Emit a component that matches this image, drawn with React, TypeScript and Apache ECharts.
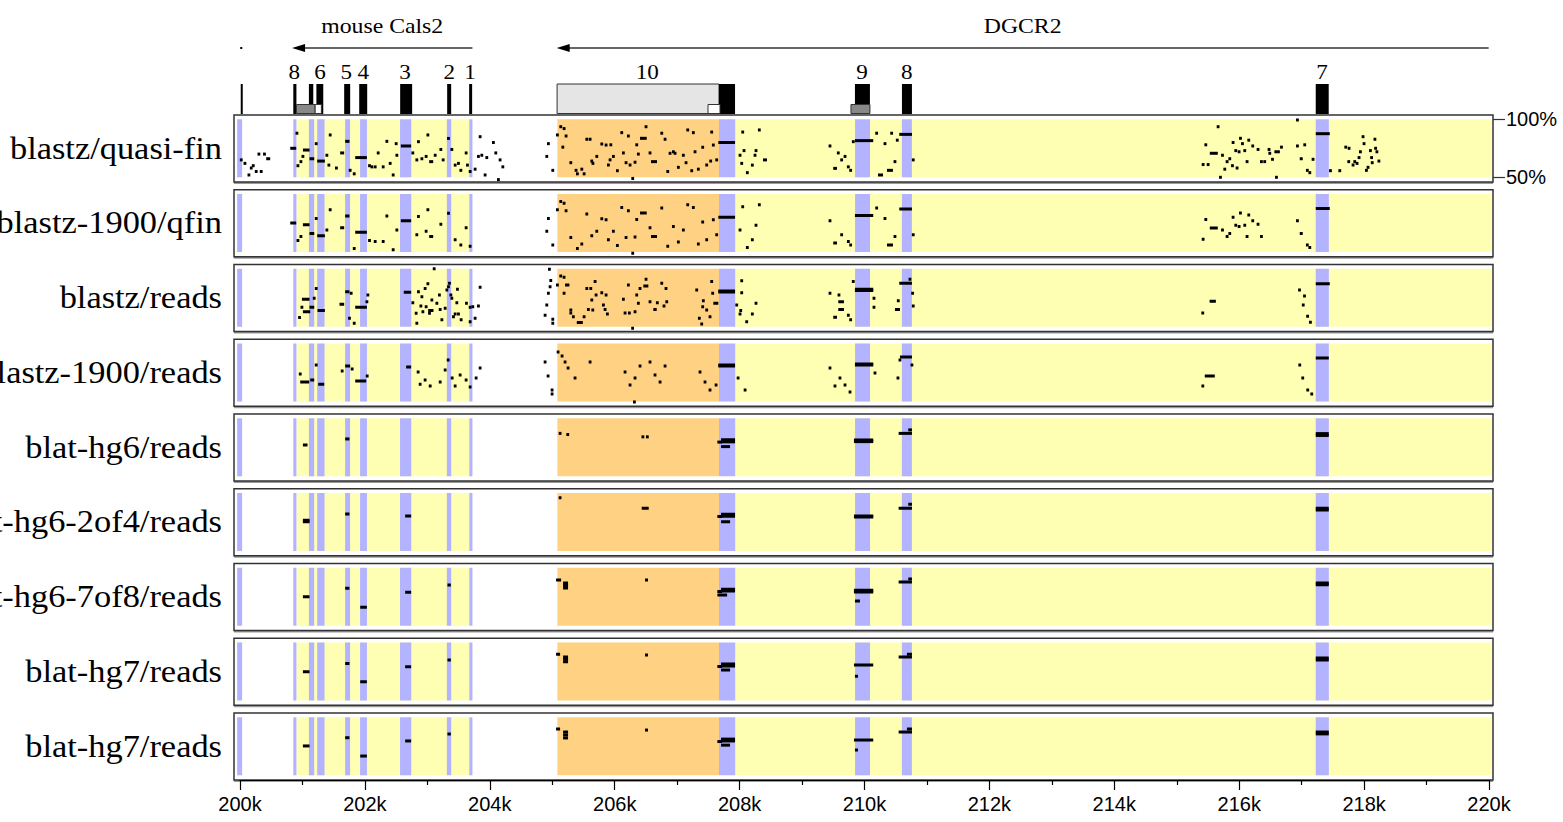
import React, { useEffect, useRef } from "react";
import * as echarts from "echarts";

// ---------- labels ----------
const rowLabels = [
  "blastz/quasi-fin",
  "blastz-1900/qfin",
  "blastz/reads",
  "blastz-1900/reads",
  "blat-hg6/reads",
  "blat-hg6-2of4/reads",
  "blat-hg6-7of8/reads",
  "blat-hg7/reads",
  "blat-hg7/reads",
];
const pctTicks = [50, 100];
const X_MIN = 199.9;
const X_MAX = 220.07;

// ---------- background bands (kb) ----------
const intronBands = [
  [200.9, 203.67],
  [207.93, 220.05],
];
const utrBands = [[205.08, 207.67]];
const exonBands = [
  [199.95, 200.03],
  [200.85, 200.9],
  [201.1, 201.185],
  [201.233, 201.35],
  [201.68, 201.76],
  [201.92, 202.03],
  [202.56, 202.74],
  [203.31, 203.38],
  [203.67, 203.72],
  [207.67, 207.93],
  [209.85, 210.09],
  [210.6, 210.76],
  [217.23, 217.44],
];

// ---------- gene annotation (kb) ----------
const geneSpans = [
  [200.0, 200.03],
  [200.83, 203.72],
  [205.07, 220.0],
];
const geneNames = ["", "mouse Cals2", "DGCR2"];
const codingExons = [
  [200.008, 200.035],
  [200.85, 200.9],
  [201.1, 201.17],
  [201.22, 201.33],
  [201.665, 201.761],
  [201.906, 202.034],
  [202.562, 202.754],
  [203.315, 203.379],
  [203.667, 203.715],
  [207.67, 207.927],
  [209.848, 210.088],
  [210.601, 210.761],
  [217.23, 217.438],
];
const utrBoxes = [[205.076, 207.67]];
const greyBoxes = [
  [200.9, 201.2],
  [209.784, 210.088],
];
const whiteBoxes = [
  [201.2, 201.3],
  [207.494, 207.686],
];
const exonNumberPos = [200.865, 201.28, 201.7, 201.97, 202.64, 203.35, 203.68, 206.52, 209.96, 210.68, 217.33];
const exonNumbers = ["8", "6", "5", "4", "3", "2", "1", "10", "9", "8", "7"];

// ---------- aligned segments: [start kb, end kb, % identity] ----------
const quasiFin = [
  [200.016, 200.016, 65], [200.075, 200.075, 62], [200.139, 200.139, 52], [200.176, 200.176, 58], [200.208, 200.208, 60],
  [200.256, 200.256, 55], [200.299, 200.299, 70], [200.336, 200.336, 55], [200.376, 200.4, 70], [200.416, 200.48, 66],
  [200.801, 200.897, 75], [200.908, 200.908, 88], [200.924, 200.924, 60], [200.972, 200.972, 63.5], [201.004, 201.004, 68],
  [201.004, 201.11, 73.5], [201.11, 201.185, 66], [201.217, 201.217, 79], [201.233, 201.356, 64], [201.388, 201.388, 69],
  [201.441, 201.441, 86.5], [201.42, 201.42, 60.5], [201.521, 201.56, 58], [201.601, 201.665, 71], [201.681, 201.75, 81],
  [201.761, 201.761, 56], [201.826, 201.826, 53], [201.842, 202.029, 67], [202.071, 202.071, 60], [202.109, 202.109, 59],
  [202.162, 202.162, 59], [202.21, 202.21, 71], [202.29, 202.29, 59], [202.349, 202.349, 81], [202.402, 202.402, 62],
  [202.45, 202.45, 52], [202.498, 202.498, 79], [202.509, 202.509, 69], [202.573, 202.738, 77], [202.765, 202.765, 71],
  [202.829, 202.829, 65], [202.855, 202.855, 80.7], [202.91, 202.91, 66], [202.978, 202.978, 68], [203.006, 203.006, 86.5],
  [203.027, 203.091, 63.5], [203.123, 203.123, 69], [203.214, 203.214, 74], [203.251, 203.251, 65], [203.336, 203.336, 83.5],
  [203.39, 203.39, 74], [203.443, 203.443, 60.5], [203.496, 203.496, 62], [203.534, 203.534, 56], [203.619, 203.619, 71],
  [203.64, 203.64, 60.5], [203.683, 203.683, 55], [203.763, 203.763, 57], [203.816, 203.816, 68], [203.843, 203.843, 85],
  [203.87, 203.87, 69], [203.923, 203.923, 52], [203.95, 203.95, 67], [204.056, 204.056, 80], [204.094, 204.094, 71],
  [204.136, 204.136, 48], [204.163, 204.163, 65], [204.207, 204.207, 59],
  [204.911, 204.911, 68], [204.937, 204.937, 79], [205.007, 205.007, 56],
  [205.081, 205.081, 86.5], [205.135, 205.135, 93.6], [205.188, 205.188, 92], [205.2, 205.24, 85.6], [205.168, 205.168, 76],
  [205.296, 205.296, 62.6], [205.401, 205.401, 53], [205.38, 205.38, 56], [205.472, 205.472, 57], [205.509, 205.509, 53],
  [205.552, 205.552, 82.8], [205.605, 205.605, 82.8], [205.632, 205.632, 64], [205.65, 205.65, 62], [205.712, 205.712, 68],
  [205.792, 205.792, 78.7], [205.861, 205.861, 77.8], [205.898, 205.898, 60.6], [205.925, 205.925, 65], [205.937, 205.937, 78],
  [205.978, 205.978, 68], [206.042, 206.042, 55.7], [206.112, 206.112, 88.5], [206.138, 206.138, 71], [206.181, 206.181, 62.6],
  [206.218, 206.218, 85.6], [206.245, 206.245, 60.6], [206.288, 206.288, 49], [206.325, 206.325, 63], [206.352, 206.352, 78],
  [206.378, 206.378, 70], [206.405, 206.512, 83.6], [206.501, 206.501, 93.6], [206.565, 206.565, 71], [206.581, 206.677, 63.5],
  [206.753, 206.753, 88], [206.806, 206.806, 82.8], [206.849, 206.849, 55], [206.886, 206.886, 70.7], [206.939, 206.939, 72],
  [206.966, 206.966, 70.7], [207.019, 207.019, 58.6], [207.099, 207.099, 69], [207.142, 207.142, 62.6], [207.169, 207.169, 90.8],
  [207.233, 207.233, 55.7], [207.259, 207.259, 88.5], [207.286, 207.286, 72], [207.339, 207.339, 57], [207.409, 207.409, 75.9],
  [207.473, 207.473, 60.6], [207.537, 207.537, 64], [207.579, 207.579, 77.8], [207.633, 207.633, 65], [207.553, 207.553, 89],
  [207.659, 207.927, 80],
  [208.007, 208.007, 69], [208.05, 208.05, 89], [208.071, 208.071, 73], [208.034, 208.034, 62], [208.124, 208.124, 54],
  [208.204, 208.204, 60.5], [208.247, 208.247, 69], [208.263, 208.263, 73], [208.316, 208.316, 90.8], [208.375, 208.439, 65],
  [209.448, 209.448, 77], [209.5, 209.56, 57.7], [209.581, 209.581, 71], [209.635, 209.635, 65], [209.689, 209.689, 68],
  [209.742, 209.742, 59], [209.779, 209.779, 56], [209.821, 209.821, 80.7], [209.848, 210.141, 81.6], [210.196, 210.196, 88],
  [210.329, 210.329, 79], [210.217, 210.297, 52], [210.361, 210.457, 56], [210.436, 210.436, 88], [210.489, 210.489, 63.5],
  [210.526, 210.526, 82], [210.558, 210.761, 87], [210.782, 210.782, 65],
  [215.469, 215.469, 78], [215.666, 215.666, 93.6], [215.533, 215.661, 70.7], [215.426, 215.426, 61], [215.506, 215.506, 61],
  [215.736, 215.736, 69], [215.773, 215.773, 57], [215.81, 215.81, 63.5], [215.853, 215.853, 66], [215.896, 215.896, 60],
  [215.906, 215.906, 80], [215.97, 215.97, 58], [215.949, 215.949, 73], [216.002, 216.002, 72], [216.024, 216.024, 83.6],
  [216.056, 216.056, 79], [216.093, 216.093, 73], [216.13, 216.13, 63.5], [216.157, 216.157, 82], [216.205, 216.237, 77],
  [216.306, 216.306, 74], [216.36, 216.36, 63.5], [216.413, 216.413, 63.5], [216.482, 216.482, 74], [216.494, 216.494, 70.7],
  [216.537, 216.537, 65.5], [216.59, 216.59, 72], [216.633, 216.633, 72], [216.681, 216.681, 76], [216.601, 216.601, 50],
  [215.704, 215.704, 50], [216.937, 216.937, 77], [216.937, 216.937, 99.4], [216.974, 217.022, 66], [217.054, 217.054, 78],
  [217.187, 217.187, 65.5], [217.081, 217.11, 56], [217.12, 217.15, 54],
  [217.231, 217.455, 87.6], [217.466, 217.466, 55.7], [217.615, 217.615, 55.7], [217.711, 217.711, 76], [217.764, 217.764, 75],
  [217.759, 217.759, 63.5], [217.828, 217.828, 60.6], [217.855, 217.855, 63.5], [217.892, 217.892, 62], [217.924, 217.924, 67],
  [217.946, 217.946, 72], [217.988, 217.988, 85], [218.004, 218.004, 79], [218.042, 218.042, 56], [218.068, 218.068, 58.6],
  [218.106, 218.106, 73], [218.125, 218.125, 67], [218.135, 218.135, 62.6], [218.178, 218.178, 82.8], [218.189, 218.189, 75],
  [218.21, 218.21, 72], [218.242, 218.242, 64],
];

const qfin1900 = [
  [200.801, 200.897, 75], [200.924, 200.924, 60], [200.972, 200.972, 63.5], [201.004, 201.11, 73.5], [201.11, 201.185, 66],
  [201.217, 201.217, 79], [201.233, 201.356, 64], [201.388, 201.388, 69], [201.441, 201.441, 86.5], [201.601, 201.665, 71],
  [201.681, 201.75, 81], [201.826, 201.826, 53], [201.842, 202.029, 67], [202.071, 202.071, 60], [202.162, 202.162, 59],
  [202.29, 202.29, 59], [202.349, 202.349, 81], [202.45, 202.45, 52], [202.509, 202.509, 69], [202.573, 202.738, 77],
  [202.829, 202.829, 65], [202.855, 202.855, 80.7], [202.978, 202.978, 68], [203.006, 203.006, 86.5], [203.027, 203.091, 63.5],
  [203.214, 203.214, 74], [203.336, 203.336, 83.5], [203.443, 203.443, 60.5], [203.534, 203.534, 56], [203.619, 203.619, 71],
  [203.683, 203.683, 55],
  [204.911, 204.911, 68], [204.937, 204.937, 79], [205.007, 205.007, 56],
  [205.081, 205.081, 86.5], [205.135, 205.135, 93.6], [205.188, 205.188, 92], [205.2, 205.24, 85.6], [205.296, 205.296, 62.6],
  [205.401, 205.401, 53], [205.472, 205.472, 57], [205.552, 205.552, 82.8], [205.632, 205.632, 64], [205.712, 205.712, 68],
  [205.792, 205.792, 78.7], [205.861, 205.861, 77.8], [205.898, 205.898, 60.6], [205.978, 205.978, 68], [206.042, 206.042, 55.7],
  [206.112, 206.112, 88.5], [206.181, 206.181, 62.6], [206.218, 206.218, 85.6], [206.288, 206.288, 49], [206.325, 206.325, 63],
  [206.352, 206.352, 78], [206.405, 206.512, 83.6], [206.565, 206.565, 71], [206.581, 206.677, 63.5], [206.753, 206.753, 88],
  [206.849, 206.849, 55], [206.939, 206.939, 72], [207.019, 207.019, 58.6], [207.099, 207.099, 69], [207.169, 207.169, 90.8],
  [207.259, 207.259, 88.5], [207.339, 207.339, 57], [207.409, 207.409, 75.9], [207.473, 207.473, 60.6], [207.579, 207.579, 77.8],
  [207.633, 207.633, 65],
  [207.659, 207.927, 80],
  [208.007, 208.007, 69], [208.05, 208.05, 89], [208.124, 208.124, 54], [208.204, 208.204, 60.5], [208.263, 208.263, 73],
  [208.316, 208.316, 90.8],
  [209.448, 209.448, 77], [209.5, 209.56, 57.7], [209.635, 209.635, 65], [209.742, 209.742, 59], [209.779, 209.779, 56],
  [209.848, 210.141, 81.6], [210.196, 210.196, 88], [210.329, 210.329, 79], [210.361, 210.457, 56], [210.489, 210.489, 63.5],
  [210.558, 210.761, 87], [210.782, 210.782, 65],
  [215.469, 215.469, 78], [215.533, 215.661, 70.7], [215.426, 215.426, 61], [215.736, 215.736, 69], [215.81, 215.81, 63.5],
  [215.853, 215.853, 66], [215.906, 215.906, 80], [215.949, 215.949, 73], [216.002, 216.002, 72], [216.024, 216.024, 83.6],
  [216.093, 216.093, 73], [216.13, 216.13, 63.5], [216.157, 216.157, 82], [216.205, 216.237, 77], [216.306, 216.306, 74],
  [216.36, 216.36, 63.5], [216.937, 216.937, 77], [216.974, 217.022, 66], [217.081, 217.11, 56], [217.12, 217.15, 54],
  [217.231, 217.455, 87.6],
];

const blastzReads = [
  [200.95, 200.95, 58], [200.988, 201.11, 73.7], [200.988, 200.988, 66.8], [201.004, 201.121, 63], [201.11, 201.185, 66.8],
  [201.185, 201.185, 74.6], [201.217, 201.217, 83], [201.238, 201.356, 64], [201.59, 201.665, 69.4], [201.681, 201.75, 80.3],
  [201.777, 201.777, 78.9], [201.75, 201.75, 57.3], [201.826, 201.826, 53], [201.842, 202.029, 66.8], [202.029, 202.029, 71.6],
  [202.045, 202.045, 77.4], [202.62, 202.738, 79.7], [202.765, 202.765, 70.8], [202.829, 202.829, 53], [202.818, 202.818, 61.6],
  [202.855, 202.855, 80.3], [202.894, 202.894, 68], [202.91, 202.91, 76], [202.926, 202.926, 63], [202.962, 202.962, 83],
  [202.978, 202.978, 67.3], [203.006, 203.006, 87], [203.011, 203.096, 64], [203.032, 203.032, 61.6], [203.07, 203.07, 73],
  [203.107, 203.107, 100], [203.15, 203.15, 70.3], [203.191, 203.191, 77.4], [203.203, 203.203, 65], [203.23, 203.23, 56],
  [203.283, 203.283, 66], [203.31, 203.31, 81.7], [203.336, 203.336, 84.6], [203.352, 203.352, 87.5], [203.374, 203.374, 77.4],
  [203.39, 203.39, 74.6], [203.416, 203.416, 58.7], [203.443, 203.443, 61], [203.48, 203.48, 82.3], [203.496, 203.496, 61],
  [203.47, 203.47, 70.8], [203.539, 203.539, 56], [203.608, 203.64, 70.3], [203.683, 203.683, 66.8], [203.683, 203.683, 54.4],
  [203.726, 203.726, 67.3], [203.763, 203.763, 57.3], [203.816, 203.816, 68], [203.843, 203.843, 84],
  [204.884, 204.884, 60], [204.911, 204.911, 68.8], [204.937, 204.937, 78.9], [204.964, 204.964, 84.6], [204.975, 204.975, 90],
  [205.007, 205.007, 56.5], [205.007, 205.007, 53], [204.953, 204.953, 99.6],
  [205.081, 205.081, 86], [205.135, 205.135, 93.8], [205.188, 205.188, 92.7], [205.204, 205.273, 86], [205.188, 205.188, 79],
  [205.296, 205.296, 64.5], [205.296, 205.296, 62], [205.337, 205.337, 58.7], [205.392, 205.488, 53.6], [205.509, 205.509, 58.7],
  [205.552, 205.552, 83], [205.616, 205.616, 83], [205.577, 205.577, 65], [205.648, 205.648, 64.5], [205.632, 205.632, 73],
  [205.685, 205.685, 89], [205.701, 205.701, 77.4], [205.792, 205.792, 79.4], [205.818, 205.818, 68.8], [205.861, 205.861, 77.4],
  [205.882, 205.882, 61], [205.845, 205.845, 65], [206.138, 206.138, 73.7], [206.165, 206.165, 62], [206.218, 206.218, 86],
  [206.234, 206.234, 62], [206.272, 206.3, 48.7], [206.325, 206.325, 63], [206.352, 206.352, 77.4], [206.378, 206.378, 70.3],
  [206.405, 206.405, 83], [206.458, 206.538, 85.2], [206.501, 206.501, 91], [206.565, 206.565, 71.6], [206.618, 206.672, 65],
  [206.682, 206.682, 70.8], [206.753, 206.753, 87.5], [206.789, 206.789, 68], [206.821, 206.821, 83], [206.833, 206.833, 71.6],
  [207.313, 207.313, 81.7], [207.355, 207.355, 57.3], [207.393, 207.393, 52.4], [207.419, 207.419, 72.5], [207.409, 207.409, 67.3],
  [207.473, 207.473, 64.5], [207.526, 207.526, 58.7], [207.553, 207.553, 89], [207.569, 207.569, 79], [207.579, 207.659, 70.3],
  [207.659, 207.927, 80.9], [207.659, 207.927, 80],
  [208.034, 208.034, 89.8], [208.034, 208.034, 79.4], [207.954, 207.954, 68.8], [208.018, 208.018, 64], [208.007, 208.007, 61],
  [208.114, 208.114, 54.4], [208.204, 208.204, 61], [208.263, 208.263, 70.3],
  [209.448, 209.448, 79], [209.5, 209.56, 58.2], [209.592, 209.592, 77.4], [209.581, 209.672, 71.6], [209.581, 209.672, 65],
  [209.742, 209.742, 60], [209.779, 209.779, 56], [209.821, 209.821, 89], [209.848, 210.141, 82.3], [209.848, 210.141, 81.3],
  [210.153, 210.153, 74.6], [210.153, 210.153, 66.8], [210.489, 210.569, 65], [210.542, 210.542, 72.5], [210.558, 210.761, 87.5],
  [210.729, 210.729, 91], [210.772, 210.772, 79], [210.782, 210.782, 68],
  [215.42, 215.42, 62], [215.53, 215.63, 72], [216.97, 216.97, 81.7], [217.05, 217.05, 76.6], [217.03, 217.03, 68.8],
  [217.1, 217.1, 59], [217.13, 217.16, 54], [217.231, 217.455, 87],
];

const blastzReads1900 = [
  [200.961, 200.961, 73.7], [200.961, 201.105, 66.8], [201.121, 201.185, 68.5], [201.217, 201.217, 81.5], [201.249, 201.345, 65],
  [201.633, 201.633, 76.3], [201.681, 201.761, 80.6], [201.793, 201.793, 78], [201.842, 202.018, 67.7], [202.034, 202.034, 72],
  [202.658, 202.738, 79.7], [202.85, 202.85, 75.4], [202.882, 202.882, 65], [202.962, 202.962, 68.5], [203.043, 203.043, 63.4],
  [203.203, 203.203, 66.8], [203.283, 203.283, 77.2], [203.331, 203.331, 85.8], [203.395, 203.395, 70.3], [203.443, 203.443, 63.4],
  [203.523, 203.523, 72.8], [203.619, 203.619, 68.5], [203.683, 203.683, 62.5], [203.779, 203.779, 70.3], [203.843, 203.843, 78.9],
  [204.884, 204.884, 84], [204.932, 204.932, 72], [204.996, 204.996, 59.9], [204.996, 204.996, 56.5],
  [205.092, 205.092, 92.7], [205.156, 205.156, 89.2], [205.204, 205.204, 84], [205.252, 205.252, 78.9], [205.364, 205.364, 70.3],
  [205.605, 205.605, 84], [206.165, 206.165, 75.4], [206.245, 206.245, 64.2], [206.325, 206.325, 70.3], [206.405, 206.405, 80.6],
  [206.565, 206.565, 84], [206.645, 206.645, 72.8], [206.726, 206.726, 66.8], [206.806, 206.806, 80.6], [206.3, 206.33, 49.6],
  [207.366, 207.366, 75.4], [207.446, 207.446, 66.8], [207.526, 207.526, 59.9], [207.623, 207.623, 64.2],
  [207.659, 207.927, 80.6], [207.659, 207.927, 81.5], [207.976, 207.976, 70.3], [208.088, 208.088, 59.9],
  [209.448, 209.448, 78.9], [209.528, 209.528, 63.4], [209.608, 209.608, 70.3], [209.689, 209.689, 64.2], [209.769, 209.769, 58.2],
  [209.848, 210.141, 82.3], [209.848, 210.141, 81.4], [210.169, 210.169, 74.6], [210.537, 210.537, 70.3], [210.569, 210.569, 85.8],
  [210.569, 210.761, 88.4], [210.761, 210.761, 81.5],
  [215.421, 215.421, 63.4], [215.453, 215.613, 72], [216.974, 216.974, 81.5], [217.022, 217.022, 70.3], [217.102, 217.102, 59.9],
  [217.166, 217.166, 56.5], [217.231, 217.439, 87.5],
];

const blatHg6 = [
  [201.004, 201.078, 77], [201.681, 201.75, 82.2], [205.124, 205.124, 87], [205.247, 205.247, 86], [206.432, 206.469, 84],
  [206.522, 206.522, 84], [207.703, 207.927, 81.5], [207.703, 207.927, 79.7], [207.644, 207.72, 79.5], [207.703, 207.847, 75.6],
  [209.832, 210.141, 81.3], [209.832, 210.141, 79.9], [210.548, 210.761, 87], [210.702, 210.761, 90],
  [217.231, 217.439, 86.8], [217.231, 217.439, 85.2],
];
const blatHg6of4 = [
  [201.004, 201.11, 76.6], [201.004, 201.11, 75.2], [201.681, 201.75, 82], [202.642, 202.738, 80.2], [205.124, 205.124, 96],
  [206.432, 206.544, 86.8], [207.703, 207.927, 81.7], [207.703, 207.927, 80.1], [207.644, 207.72, 79.8], [207.703, 207.847, 75.3],
  [209.832, 210.141, 80.2], [209.832, 210.141, 79.4], [210.548, 210.761, 86.8], [210.702, 210.761, 90.3],
  [217.231, 217.439, 86.8], [217.231, 217.439, 85.4],
];
const blatHg6of8 = [
  [201.004, 201.11, 75], [201.681, 201.75, 82.3], [201.922, 202.029, 66], [202.642, 202.738, 79], [203.32, 203.374, 85.2],
  [205.06, 205.14, 89.5], [205.172, 205.252, 86.9], [205.172, 205.252, 84.7], [205.172, 205.252, 82.6], [206.485, 206.533, 89.5],
  [207.703, 207.927, 81.5], [207.703, 207.927, 80], [207.644, 207.72, 79.5], [207.644, 207.8, 76.6],
  [209.832, 210.141, 80.6], [209.832, 210.141, 79.2], [209.848, 209.928, 71.4], [210.548, 210.761, 87.8], [210.702, 210.761, 90.3],
  [217.231, 217.439, 86.8], [217.231, 217.439, 85.4],
];
const blatHg7a = [
  [201.004, 201.11, 74.8], [201.681, 201.75, 82], [201.922, 202.029, 66.2], [202.642, 202.738, 79.2], [203.32, 203.374, 85],
  [205.06, 205.124, 90], [205.172, 205.252, 87.5], [205.172, 205.252, 85.5], [205.172, 205.252, 83.5], [206.485, 206.533, 89.2],
  [207.703, 207.927, 81.4], [207.703, 207.927, 79.8], [207.644, 207.72, 79.3], [207.703, 207.847, 76.3],
  [209.832, 210.141, 80.6], [209.848, 209.896, 71], [210.548, 210.761, 87.5], [210.681, 210.761, 90],
  [217.231, 217.439, 86.6], [217.231, 217.439, 85],
];
const blatHg7b = [
  [201.004, 201.11, 75.3], [201.681, 201.75, 82.4], [201.922, 202.029, 66.6], [202.642, 202.738, 79.6], [203.32, 203.374, 85.6],
  [205.06, 205.124, 89.9], [205.172, 205.252, 87.3], [205.172, 205.252, 84.8], [205.172, 205.252, 82.2], [206.485, 206.533, 89],
  [207.703, 207.927, 81.2], [207.703, 207.927, 79.6], [207.644, 207.72, 79.1], [207.703, 207.847, 76],
  [209.832, 210.141, 80.4], [209.848, 209.896, 71.8], [210.548, 210.761, 87.3], [210.681, 210.761, 89.9],
  [217.231, 217.439, 87.3], [217.231, 217.439, 85.7],
];

const panelSegments = [
  quasiFin, qfin1900, blastzReads, blastzReads1900, blatHg6, blatHg6of4, blatHg6of8, blatHg7a, blatHg7b,
];

// ---------- layout / style ----------
const W = 1563;
const H = 822;
const FRAME_L = 234;
const FRAME_R = 1493;
const PANEL_TOP0 = 115;
const PANEL_STEP = 74.75;
const PANEL_H = 67;
const Y_MIN = 45.95;
const Y_MAX = 103.7;
const BAND_COLORS = ["#ffffb3", "#fed282", "#b3b3ff"];
const SERIF = '"Liberation Serif", "Times New Roman", serif';
const SANS = '"Liberation Sans", Arial, sans-serif';

const bandData = [
  ...intronBands.map((b) => [b[0], b[1], 0]),
  ...utrBands.map((b) => [b[0], b[1], 1]),
  ...exonBands.map((b) => [b[0], b[1], 2]),
];

function renderBand(params: any, api: any) {
  const a = api.coord([api.value(0), 100]);
  const b = api.coord([api.value(1), 50]);
  return {
    type: "rect",
    shape: { x: a[0], y: a[1], width: b[0] - a[0], height: b[1] - a[1] },
    style: { fill: BAND_COLORS[api.value(2)] },
  };
}

function renderSeg(params: any, api: any) {
  const a = api.coord([api.value(0), api.value(2)]);
  const b = api.coord([api.value(1), api.value(2)]);
  const len = b[0] - a[0];
  const minW = 2.8;
  const w = Math.max(len, minW);
  const x = len < minW ? a[0] - (minW - len) / 2 : a[0];
  return {
    type: "rect",
    shape: { x, y: a[1] - 1.5, width: w, height: 3 },
    style: { fill: "#000" },
  };
}

function boxRenderer(top: number, height: number, fill: string, stroke?: string) {
  return (params: any, api: any) => {
    const a = api.coord([api.value(0), 0]);
    const b = api.coord([api.value(1), 0]);
    return {
      type: "rect",
      shape: { x: a[0], y: top, width: Math.max(b[0] - a[0], 2), height },
      style: stroke ? { fill, stroke, lineWidth: 1 } : { fill },
    };
  };
}

function renderGene(params: any, api: any) {
  const a = api.coord([api.value(0), 0]);
  const b = api.coord([api.value(1), 0]);
  const y = 48;
  const name = geneNames[params.dataIndex];
  if (b[0] - a[0] < 20) {
    return { type: "rect", shape: { x: a[0], y: y - 1, width: 2, height: 2 }, style: { fill: "#000" } };
  }
  return {
    type: "group",
    children: [
      { type: "line", shape: { x1: a[0] + 6, y1: y, x2: b[0], y2: y }, style: { stroke: "#333", lineWidth: 1.5 } },
      {
        type: "polygon",
        shape: { points: [[a[0], y], [a[0] + 13, y - 4], [a[0] + 13, y + 4]] },
        style: { fill: "#000" },
      },
      {
        type: "text",
        x: (a[0] + b[0]) / 2,
        y: 26,
        scaleX: 1.08,
        style: {
          text: name, x: 0, y: 0, align: "center", textAlign: "center",
          verticalAlign: "middle", textVerticalAlign: "middle", fontSize: 22, fontFamily: SERIF, fill: "#000",
        },
      },
    ],
  };
}

function renderNumber(params: any, api: any) {
  const a = api.coord([api.value(0), 0]);
  return {
    type: "text",
    x: a[0],
    y: 72,
    scaleX: 1.05,
    style: {
      text: exonNumbers[params.dataIndex], x: 0, y: 0, align: "center", textAlign: "center",
      verticalAlign: "middle", textVerticalAlign: "middle", fontSize: 22, fontFamily: SERIF, fill: "#000",
    },
  };
}

function buildOption() {
  const grid: any[] = [];
  const xAxis: any[] = [];
  const yAxis: any[] = [];
  const series: any[] = [];
  const graphic: any[] = [];

  for (let i = 0; i < 9; i++) {
    const top = PANEL_TOP0 + PANEL_STEP * i;
    grid.push({
      left: FRAME_L, right: W - FRAME_R, top, height: PANEL_H,
      show: true, borderColor: "#333", borderWidth: 1.5, backgroundColor: "#fff",
    });
    xAxis.push({ type: "value", gridIndex: i, min: X_MIN, max: X_MAX, show: false });
    yAxis.push({ type: "value", gridIndex: i, min: Y_MIN, max: Y_MAX, show: false });
    series.push({
      type: "custom", xAxisIndex: i, yAxisIndex: i, data: bandData, renderItem: renderBand,
      encode: { x: [0, 1] }, silent: true, clip: true,
    });
    series.push({
      type: "custom", xAxisIndex: i, yAxisIndex: i, data: panelSegments[i], renderItem: renderSeg,
      encode: { x: [0, 1], y: 2 }, silent: true, clip: true,
    });
    graphic.push({
      type: "rect", shape: { x: FRAME_L, y: top + PANEL_H - 0.5, width: FRAME_R - FRAME_L, height: 2.5 },
      style: { fill: "#9a9a9a" }, z: -1, silent: true,
    });
    graphic.push({
      type: "text", x: 222, y: top + 32.5, scaleX: 1.075,
      style: {
        text: rowLabels[i], x: 0, y: 0, align: "right", textAlign: "right", verticalAlign: "middle",
        textVerticalAlign: "middle", font: `32px ${SERIF}`, fill: "#000",
      },
    });
  }

  // annotation grid (index 9)
  grid.push({ left: FRAME_L, right: W - FRAME_R, top: 0, height: 114 });
  xAxis.push({ type: "value", gridIndex: 9, min: X_MIN, max: X_MAX, show: false });
  yAxis.push({ type: "value", gridIndex: 9, min: 0, max: 114, show: false });
  const ann = { type: "custom", xAxisIndex: 9, yAxisIndex: 9, silent: true, clip: false, encode: { x: [0, 1] } };
  series.push({ ...ann, data: geneSpans, renderItem: renderGene });
  series.push({ ...ann, data: utrBoxes, renderItem: boxRenderer(84, 29.5, "#e5e5e5", "#333") });
  series.push({ ...ann, data: codingExons, renderItem: boxRenderer(84, 30, "#000") });
  series.push({ ...ann, data: greyBoxes, renderItem: boxRenderer(104.5, 9, "#888", "#333") });
  series.push({ ...ann, data: whiteBoxes, renderItem: boxRenderer(104.5, 9, "#fff", "#333") });
  series.push({
    ...ann, encode: { x: 0 }, data: exonNumberPos.map((p) => [p]), renderItem: renderNumber,
  });

  // bottom axis grid (index 10)
  grid.push({ left: 240, right: W - 1489, top: PANEL_TOP0 + PANEL_STEP * 8, height: PANEL_H });
  xAxis.push({
    type: "value", gridIndex: 10, min: 200, max: 220, interval: 2, position: "bottom",
    axisLine: { show: true, lineStyle: { color: "#000", width: 1.2 } },
    axisTick: { show: true, length: 10, lineStyle: { color: "#000", width: 1.2 } },
    minorTick: { show: true, splitNumber: 2, length: 5, lineStyle: { color: "#000", width: 1.2 } },
    axisLabel: {
      formatter: (v: number) => `${v}k`, fontSize: 20, fontFamily: SANS, color: "#000", margin: 14,
    },
    splitLine: { show: false },
    minorSplitLine: { show: false },
  });
  yAxis.push({ type: "value", gridIndex: 10, min: 0, max: 1, show: false });

  // right percent axis on first panel (index 11)
  yAxis.push({
    type: "value", gridIndex: 0, position: "right", min: Y_MIN, max: Y_MAX,
    axisLine: { show: false },
    axisTick: { show: true, customValues: pctTicks, length: 12, lineStyle: { color: "#333", width: 1.2 } },
    axisLabel: {
      show: true, customValues: pctTicks, formatter: "{value}%", margin: 13,
      fontSize: 20, fontFamily: SANS, color: "#000",
    },
    splitLine: { show: false },
  });

  return { animation: false, grid, xAxis, yAxis, series, graphic };
}

export default function App() {
  const ref = useRef<HTMLDivElement>(null);
  useEffect(() => {
    if (!ref.current) return;
    const chart = echarts.init(ref.current, null, { renderer: "svg" });
    chart.setOption(buildOption() as any);
    return () => chart.dispose();
  }, []);
  return (
    <div
      ref={ref}
      style={{ position: "absolute", left: 0, top: 0, width: W, height: H, background: "#fff" }}
    />
  );
}
